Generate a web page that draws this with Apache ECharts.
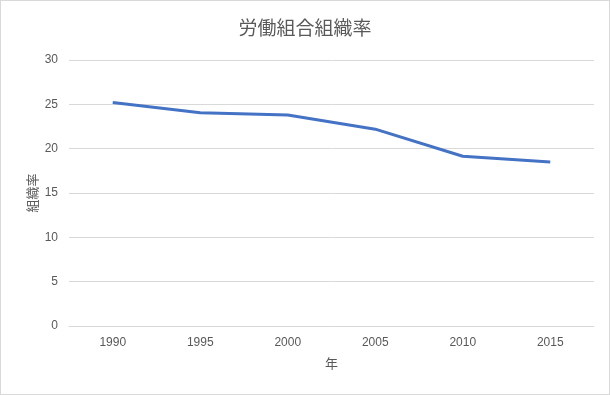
<!DOCTYPE html>
<html><head><meta charset="utf-8">
<script src="https://cdn.jsdelivr.net/npm/echarts@6/dist/echarts.min.js"></script>
<style>html,body{margin:0;padding:0;background:#fff}#c{width:608px;height:393px;border:1px solid #d9d9d9}</style>
</head><body><div id="c"></div>
<script>
const years = ['1990','1995','2000','2005','2010','2015'];
const rates = [25.2, 24.05, 23.8, 22.2, 19.15, 18.5];
const yTicks = {min:0, max:30, interval:5};
const FONT = '"Noto Sans CJK JP", "Noto Sans", sans-serif';
const chart = echarts.init(document.getElementById('c'));
chart.setOption({
  animation:false,
  textStyle:{fontFamily:FONT},
  title:{text:'労働組合組織率', left:'center', top:12, textStyle:{fontFamily:FONT, fontSize:19, fontWeight:'normal', color:'#595959'}},
  grid:{left:68, right:15, top:59, bottom:68},
  xAxis:{type:'category', data:years, boundaryGap:true, name:'年', nameLocation:'middle', nameGap:31,
    nameTextStyle:{color:'#595959', fontSize:13, fontFamily:FONT},
    axisLine:{lineStyle:{color:'#d9d9d9'}}, axisTick:{show:false},
    axisLabel:{color:'#595959', fontSize:12, margin:11, fontFamily:'"Liberation Sans", sans-serif'}},
  yAxis:{type:'value', min:yTicks.min, max:yTicks.max, interval:yTicks.interval, name:'組織率', nameLocation:'middle', nameGap:30, nameRotate:90, nameMoveOverlap:false,
    nameTextStyle:{color:'#595959', fontSize:13, fontFamily:FONT},
    axisLine:{show:false}, axisTick:{show:false},
    splitLine:{lineStyle:{color:'#d9d9d9'}},
    axisLabel:{color:'#595959', fontSize:12, margin:11, fontFamily:'"Liberation Sans", sans-serif'}},
  series:[{type:'line', data:rates, showSymbol:false, symbol:'none', lineStyle:{color:'#4472C4', width:3}, itemStyle:{color:'#4472C4'}}]
});
</script></body></html>
